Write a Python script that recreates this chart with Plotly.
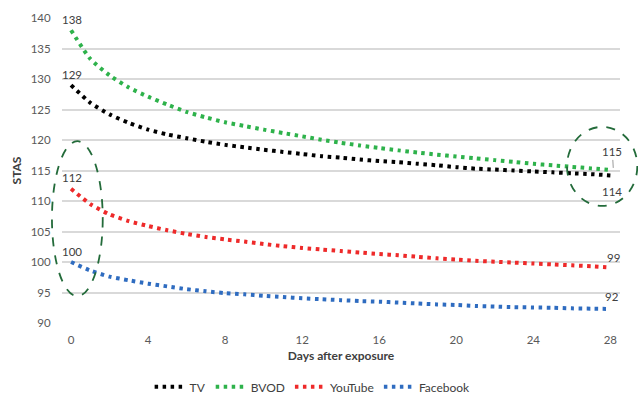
import plotly.graph_objects as go

days = list(range(0, 29))
tv = [129, 126.1, 124.2, 122.8, 121.7, 120.9, 120.3, 119.7, 119.2, 118.8, 118.4, 118.05, 117.7,
      117.35, 117.1, 116.8, 116.55, 116.35, 116.1, 115.85, 115.55, 115.3, 115.15, 115.0, 114.85,
      114.7, 114.55, 114.4, 114.2]
bvod = [138, 133.3, 130.6, 128.6, 127.1, 125.8, 124.6, 123.7, 122.9, 122.3, 121.7, 121.15, 120.6,
        120.05, 119.55, 119.1, 118.7, 118.3, 117.95, 117.6, 117.3, 117.0, 116.7, 116.4, 116.1,
        115.85, 115.6, 115.35, 115.1]
youtube = [112, 109.5, 107.8, 106.7, 105.9, 105.2, 104.6, 104.1, 103.7, 103.35, 102.95, 102.6,
           102.3, 102.05, 101.8, 101.55, 101.3, 101.1, 100.85, 100.6, 100.4, 100.2, 100.05, 99.9,
           99.75, 99.6, 99.45, 99.3, 99.1]
facebook = [100, 98.6, 97.6, 97.0, 96.45, 96.0, 95.55, 95.2, 94.9, 94.7, 94.45, 94.25, 94.05, 93.9,
            93.75, 93.6, 93.5, 93.35, 93.2, 93.05, 92.95, 92.8, 92.7, 92.6, 92.55, 92.5, 92.4,
            92.35, 92.3]

series_names = ["TV", "BVOD", "YouTube", "Facebook"]
series_values = [tv, bvod, youtube, facebook]
series_colors = ["#000000", "#2eb24b", "#ee2a2a", "#2f6cc0"]
start_labels = ["129", "138", "112", "100"]
end_labels = ["114", "115", "99", "92"]

x_ticks = [0, 4, 8, 12, 16, 20, 24, 28]
y_ticks = [90, 95, 100, 105, 110, 115, 120, 125, 130, 135, 140]

FONT = "Lato, 'Open Sans', sans-serif"
TEXT = "#404040"

fig = go.Figure()
for name, vals, col in zip(series_names, series_values, series_colors):
    fig.add_trace(go.Scatter(
        x=days, y=vals, name=name, mode="lines",
        line=dict(color=col, width=4, dash="3.5px,4.5px", shape="spline", smoothing=0.6),
    ))

# start labels
for name, vals, lab in zip(series_names, series_values, start_labels):
    fig.add_annotation(x=days[0], y=vals[0], text=lab, showarrow=False,
                       yshift=11, xshift=1,
                       font=dict(size=11.5, color=TEXT, family=FONT))

# end labels
fig.add_annotation(x=days[-1], y=bvod[-1], text=end_labels[1], showarrow=True,
                   arrowhead=0, arrowwidth=0.8, arrowcolor="#808080", ax=-1, ay=-18,
                   standoff=2, xshift=3, font=dict(size=11.5, color=TEXT, family=FONT))
fig.add_annotation(x=days[-1], y=tv[-1], text=end_labels[0], showarrow=False,
                   yshift=-16, xshift=2, font=dict(size=11.5, color=TEXT, family=FONT))
fig.add_annotation(x=days[-1], y=youtube[-1], text=end_labels[2], showarrow=False,
                   yshift=10, xshift=3, font=dict(size=11.5, color=TEXT, family=FONT))
fig.add_annotation(x=days[-1], y=facebook[-1], text=end_labels[3], showarrow=False,
                   yshift=12, xshift=2, font=dict(size=11.5, color=TEXT, family=FONT))

# highlight ellipses
ell = dict(color="#236b3a", width=1.8, dash="dash")
fig.add_shape(type="circle", xref="paper", yref="paper",
              x0=-0.018, x1=0.073, y0=0.088, y1=0.596, line=ell)
fig.add_shape(type="circle", xref="paper", yref="paper",
              x0=0.905, x1=1.031, y0=0.384, y1=0.643, line=ell)

fig.update_layout(
    width=638, height=398,
    margin=dict(l=62, r=18, t=18, b=75, autoexpand=False),
    paper_bgcolor="white", plot_bgcolor="white",
    font=dict(family=FONT, color=TEXT, size=11),
    showlegend=True,
    legend=dict(orientation="h", xref="container", yref="container",
                x=0.49, y=0.028, xanchor="center", yanchor="middle",
                font=dict(size=12, color=TEXT, family=FONT),
                tracegroupgap=0, bgcolor="rgba(0,0,0,0)"),
    xaxis=dict(range=[-0.47, 28.5], tickvals=x_ticks, ticktext=[str(v) for v in x_ticks],
               showgrid=False, zeroline=False, showline=False, automargin=False,
               ticks="outside", ticklen=6, tickcolor="rgba(0,0,0,0)",
               tickfont=dict(size=11.5, color="#595959", family=FONT),
               title=dict(text="<b>Days after exposure</b>", standoff=6,
                          font=dict(size=12, color=TEXT, family=FONT))),
    yaxis=dict(range=[90, 140], tickvals=y_ticks, ticktext=[str(v) for v in y_ticks],
               showgrid=True, gridcolor="#d9d9d9", gridwidth=1.5, zeroline=False,
               showline=False, ticks="outside", ticklen=8, tickcolor="rgba(0,0,0,0)",
               automargin=False,
               tickfont=dict(size=11.5, color="#595959", family=FONT),
               title=dict(text="<b>STAS</b>", standoff=6,
                          font=dict(size=12, color=TEXT, family=FONT))),
)

fig.write_html("out.html", config={"displayModeBar": False},
               post_script="document.body.style.margin='0';document.body.style.overflow='hidden';")
